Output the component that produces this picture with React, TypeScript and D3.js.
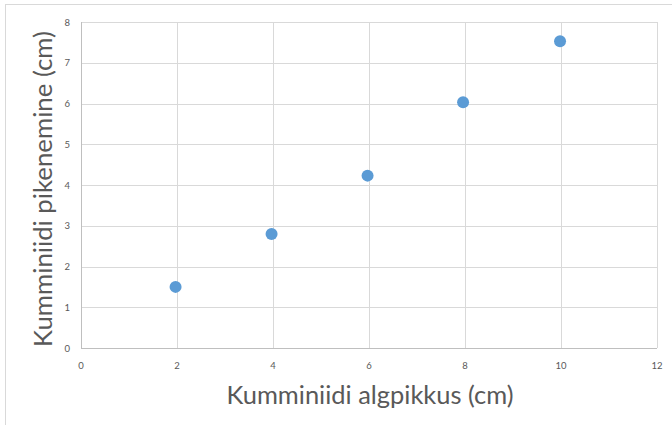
import React from 'react';
import * as d3 from 'd3';

// measured data (Kumminiidi algpikkus vs pikenemine)
const algpikkus = [1.97, 3.97, 5.97, 7.96, 9.98];
const pikenemine = [1.5, 2.8, 4.23, 6.03, 7.53];
const xTicks = [0, 2, 4, 6, 8, 10, 12];
const yTicks = [0, 1, 2, 3, 4, 5, 6, 7, 8];
const xTitle = 'Kumminiidi algpikkus (cm)';
const yTitle = 'Kumminiidi pikenemine (cm)';

const W = 672, H = 425;
const plot = { left: 81, right: 657, top: 22, bottom: 348 };
const font = 'Lato, "Open Sans", sans-serif';
const textGrey = '#595959';

const App = () => {
    const x = d3.scaleLinear().domain([0, 12]).range([plot.left, plot.right]);
    const y = d3.scaleLinear().domain([0, 8]).range([plot.bottom, plot.top]);
    const pts = algpikkus.map((v, i) => ({ x: v, y: pikenemine[i] }));

    return (
        <svg width={W} height={H} style={{ position: 'absolute', left: 0, top: 0 }}>
            <rect x={0} y={0} width={W} height={H} fill="#fff" />
            <rect x={5.5} y={4.5} width={700} height={430} fill="none" stroke="#d9d9d9" />
            {/* grid */}
            {xTicks.map(t => (
                <line key={'gx' + t} x1={Math.round(x(t)) + 0.5} x2={Math.round(x(t)) + 0.5}
                    y1={plot.top} y2={plot.bottom} stroke="#d9d9d9" strokeWidth={1} />
            ))}
            {yTicks.map(t => (
                <line key={'gy' + t} x1={plot.left} x2={plot.right}
                    y1={Math.round(y(t)) + 0.5} y2={Math.round(y(t)) + 0.5} stroke="#d9d9d9" strokeWidth={1} />
            ))}
            {/* axes */}
            <line x1={plot.left + 0.5} x2={plot.left + 0.5} y1={plot.top} y2={plot.bottom + 0.5} stroke="#bfbfbf" />
            <line x1={plot.left} x2={plot.right} y1={plot.bottom + 0.5} y2={plot.bottom + 0.5} stroke="#bfbfbf" />
            {/* tick labels */}
            {xTicks.map(t => (
                <text key={'tx' + t} x={x(t)} y={369} fontSize={9.5} fill={textGrey}
                    fontFamily={font} textAnchor="middle">{t}</text>
            ))}
            {yTicks.map(t => (
                <text key={'ty' + t} x={70} y={y(t) + 3.5} fontSize={9.5} fill={textGrey}
                    fontFamily={font} textAnchor="end">{t}</text>
            ))}
            {/* points */}
            {pts.map((p, i) => (
                <circle key={i} cx={x(p.x)} cy={y(p.y)} r={6} fill="#5b9bd5" />
            ))}
            {/* titles */}
            <text x={370} y={404} fontSize={25} fill={textGrey} fontFamily={font}
                textAnchor="middle" textLength={287} lengthAdjust="spacingAndGlyphs">{xTitle}</text>
            <text transform={`translate(52,${189}) rotate(-90)`} fontSize={25} fill={textGrey}
                fontFamily={font} textAnchor="middle" textLength={316} lengthAdjust="spacingAndGlyphs">{yTitle}</text>
        </svg>
    );
};

export default App;
